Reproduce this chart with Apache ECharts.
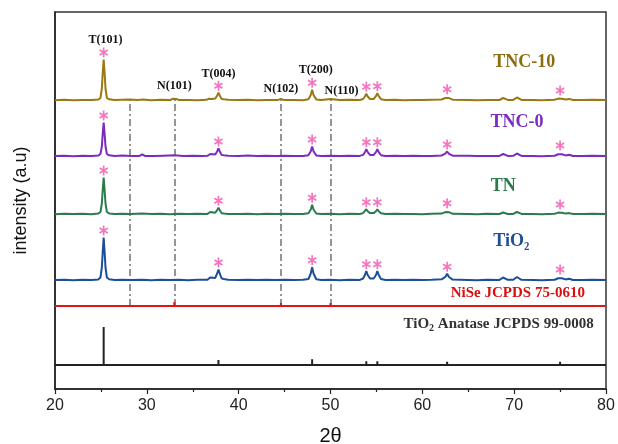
<!DOCTYPE html>
<html><head><meta charset="utf-8">
<script src="https://cdn.jsdelivr.net/npm/echarts@6/dist/echarts.min.js"></script>
<style>html,body{margin:0;padding:0;background:#fff}#c{width:618px;height:444px}</style>
</head><body><div id="c"></div>
<script>
// ---------- data ----------
const xTicks = [20, 30, 40, 50, 60, 70, 80];
const sampleNames = ['TNC-10', 'TNC-0', 'TN', 'TiO\u2082'];

// relative intensities [2θ, counts]
const tnc10 = [[20,0.3],[21,0.8],[22,0.2],[23,0.6],[24,0.4],[24.7,0.9],[24.95,2.5],[25.1,12],[25.2,28],[25.3,41],[25.4,28],[25.5,12],[25.65,2.5],[25.9,1.2],[26.5,0.5],[27.3,0.8],[28.1,1.0],[29,0.4],[29.6,1.0],[30.5,0.3],[31.5,0.7],[32.6,0.6],[32.85,1.8],[33.0,2.6],[33.2,1.6],[33.5,0.5],[34.5,0.6],[35.5,0.3],[36.5,0.7],[36.75,1.8],[36.9,2.6],[37.1,1.4],[37.45,2.0],[37.65,4.8],[37.8,7.7],[37.95,4.8],[38.15,1.5],[38.4,1.2],[38.6,2.6],[38.85,0.7],[40,0.4],[41,0.8],[42,0.3],[43,0.6],[44.3,0.6],[44.6,1.6],[44.9,0.6],[46,0.5],[47,0.3],[47.6,1.2],[47.85,5.5],[48.0,10.7],[48.15,5.5],[48.45,1.1],[49,0.5],[50,1.4],[51,0.4],[52,0.7],[53.2,0.5],[53.55,1.5],[53.75,4],[53.9,6.7],[54.05,4],[54.3,1.5],[54.7,1.5],[54.95,4.3],[55.1,7.3],[55.25,4.3],[55.5,1.3],[56,0.5],[57,0.8],[58,0.3],[59,0.6],[60,0.4],[61,0.7],[62.1,1.0],[62.5,2.5],[62.7,4.3],[62.9,2.4],[63.3,0.8],[65,0.6],[66,0.3],[67,0.6],[68.4,0.5],[68.6,1.4],[68.8,2.5],[69.0,1.3],[69.3,0.6],[69.9,0.6],[70.1,1.6],[70.3,3.0],[70.5,1.5],[70.8,0.6],[72,0.5],[73,0.3],[74.4,0.7],[74.8,1.9],[75.0,3.0],[75.2,1.8],[75.6,1.0],[76.0,1.6],[76.4,0.5],[77.5,0.4],[78.5,0.7],[80,0.4]];
const tnc0 = [[20,0.4],[21,0.7],[22,0.3],[23,0.8],[24,0.5],[24.7,0.9],[24.95,2.5],[25.1,10],[25.2,23],[25.3,34],[25.4,23],[25.5,10],[25.65,2.5],[25.9,1.2],[26.5,0.5],[27.3,0.9],[28.3,0.4],[29.2,0.6],[29.5,2.0],[29.8,0.6],[30.8,0.4],[31.8,0.8],[33.0,1.3],[34,0.4],[35,0.8],[36,0.4],[36.6,0.7],[36.75,1.7],[36.9,2.5],[37.1,1.4],[37.45,2.0],[37.65,5],[37.8,8],[37.95,5],[38.15,1.5],[38.4,1.2],[38.6,2.5],[38.85,0.7],[40,0.5],[41,0.9],[42,0.4],[43,0.8],[44,0.5],[45,0.8],[46,0.4],[47,0.6],[47.6,1.2],[47.85,5.2],[48.0,10],[48.15,5.2],[48.45,1.1],[49,0.4],[50,0.7],[51,0.4],[52,0.8],[53.2,0.6],[53.55,1.6],[53.75,4.3],[53.9,7.3],[54.05,4.3],[54.3,1.6],[54.7,1.6],[54.95,4.3],[55.1,7.3],[55.25,4.3],[55.5,1.3],[56,0.5],[57,0.8],[58,0.4],[59,0.7],[60,0.4],[61,0.6],[62.1,1.0],[62.5,2.8],[62.7,5],[62.9,2.7],[63.3,0.8],[65,0.7],[66,0.4],[67,0.6],[68.4,0.6],[68.6,1.4],[68.8,2.5],[69.0,1.3],[69.3,0.6],[69.9,0.7],[70.1,1.6],[70.3,3.0],[70.5,1.5],[70.8,0.6],[72,0.6],[73,0.3],[74.4,0.8],[74.8,2.3],[75.0,4],[75.2,2.2],[75.6,1.1],[76.0,1.8],[76.4,0.5],[77.5,0.5],[78.5,0.7],[80,0.4]];
const tn = [[20,0.3],[21,0.8],[22,0.4],[23,0.7],[24,0.3],[24.7,0.9],[24.95,2.5],[25.1,11],[25.2,25],[25.3,37],[25.4,25],[25.5,11],[25.65,2.5],[25.9,1.1],[26.5,0.4],[27.3,0.8],[28.3,0.4],[29.5,1.0],[30.5,0.4],[31.5,0.7],[32.5,0.3],[33.5,0.7],[34.5,0.4],[35.5,0.7],[36.6,0.6],[36.75,1.7],[36.9,2.5],[37.1,1.3],[37.45,1.8],[37.65,4.2],[37.8,6.7],[37.95,4.2],[38.15,1.3],[38.4,1.0],[38.6,2.0],[38.85,0.6],[40,0.5],[41,0.8],[42,0.3],[43,0.7],[44,0.4],[45,0.8],[46,0.4],[47,0.6],[47.6,1.2],[47.85,5],[48.0,9.7],[48.15,5],[48.45,1.0],[49,0.5],[50,0.7],[51,0.3],[52,0.7],[53.2,0.5],[53.55,1.4],[53.75,3.2],[53.9,5.3],[54.05,3.2],[54.3,1.4],[54.7,1.4],[54.95,3.2],[55.1,5.3],[55.25,3.2],[55.5,1.2],[56,0.5],[57,0.8],[58,0.4],[59,0.6],[60,0.3],[61,0.7],[62.1,0.9],[62.5,2.4],[62.7,4.3],[62.9,2.3],[63.3,0.7],[65,0.6],[66,0.3],[67,0.7],[68.4,0.5],[68.6,1.2],[68.8,2.0],[69.0,1.1],[69.3,0.5],[69.9,0.6],[70.1,1.4],[70.3,2.5],[70.5,1.3],[70.8,0.6],[72,0.5],[73,0.3],[74.4,0.7],[74.8,1.9],[75.0,3.0],[75.2,1.8],[75.6,0.9],[76.0,1.4],[76.4,0.5],[77.5,0.4],[78.5,0.7],[80,0.4]];
const tio2 = [[20,0.4],[21,0.7],[22,0.3],[23,0.8],[24,0.4],[24.7,1.0],[24.95,3],[25.1,13],[25.2,29],[25.3,43],[25.4,29],[25.5,13],[25.65,3],[25.9,1.3],[26.5,0.5],[27.3,0.8],[28.3,0.4],[29.5,0.8],[30.5,0.3],[31.5,0.7],[32.5,0.4],[33.5,0.7],[34.5,0.3],[35.5,0.7],[36.6,0.7],[36.75,2.0],[36.9,3.0],[37.1,1.6],[37.45,2.6],[37.65,6.8],[37.8,11],[37.95,6.8],[38.15,2.0],[38.4,1.5],[38.6,3.0],[38.85,0.7],[40,0.5],[41,0.8],[42,0.4],[43,0.7],[44,0.4],[45,0.8],[46,0.4],[47,0.7],[47.6,1.5],[47.85,7],[48.0,13.3],[48.15,7],[48.45,1.3],[49,0.5],[50,0.7],[51,0.3],[52,0.8],[53.2,0.6],[53.55,2.0],[53.75,5.5],[53.9,9.3],[54.05,5.5],[54.3,2.0],[54.7,2.0],[54.95,5.5],[55.1,9.3],[55.25,5.5],[55.5,1.6],[56,0.6],[57,0.8],[58,0.4],[59,0.7],[60,0.4],[61,0.7],[62.1,1.2],[62.5,3.6],[62.7,6.7],[62.9,3.5],[63.3,0.9],[65,0.6],[66,0.3],[67,0.7],[68.4,0.6],[68.6,1.6],[68.8,3.0],[69.0,1.5],[69.3,0.7],[69.9,0.8],[70.1,1.9],[70.3,3.5],[70.5,1.8],[70.8,0.7],[72,0.5],[73,0.3],[74.4,0.8],[74.8,2.3],[75.0,4],[75.2,2.2],[75.6,1.1],[76.0,1.8],[76.4,0.5],[77.5,0.4],[78.5,0.7],[80,0.4]];

// reference stick patterns
const niseRef2Theta = [28.1, 33.0, 44.6, 50.0];
const niseRefInt    = [2, 4, 3, 3];
const anataseRef2Theta = [25.3, 36.9, 37.8, 38.6, 48.0, 53.9, 55.1, 62.7, 68.8, 70.3, 75.0];
const anataseRefInt    = [38, 1, 5, 1, 5.7, 3.7, 3.7, 3.3, 1.2, 1.2, 3.3];

// anatase peaks marked with *
const starPeaks = [25.3, 37.8, 48.0, 53.9, 55.1, 62.7, 75.0];
// NiSe reference lines (dash-dot)
const niseLines = [28.1, 33.0, 44.6, 50.0];

const peakLabels = ['T(101)', 'N(101)', 'T(004)', 'N(102)', 'T(200)', 'N(110)'];

// ---------- layout (vertical stacking offsets, label anchors) ----------
const sampleOffsets = [288.5, 232.5, 174.5, 108.5];
const niseOffset = 83;
const anataseOffset = 24;
const peakLabelPos = [[25.5,349],[33.0,303],[37.8,315],[44.6,300],[48.4,319],[51.2,298]];
const sampleLabelPos = [[71.1,327],[70.3,267],[68.8,203],[69.7,148]];
const niseLabelPos = [70.4, 96];
const anataseLabelPos = [68.3, 65];

const colors = ['#9a7812', '#7a2cbf', '#2b7b4c', '#1d4f98'];
const textColors = ['#8d6c10', '#7a2cbf', '#2b7b4c', '#1d4f98'];
const starColor = '#f252ad';
const serif = '"Liberation Serif", "Times New Roman", serif';

// ---------- build ----------
const samples = [tnc10, tnc0, tn, tio2];
function shift(arr, off) { return arr.map(p => [p[0], p[1] + off]); }
function sticks(xs, hs, off) {
  const out = [[20, off]];
  xs.forEach((x, i) => { out.push([x, off], [x, off + hs[i]], [x, off]); });
  out.push([80, off]);
  return out;
}
function peakTop(arr, x) {
  let best = 0;
  arr.forEach(p => { if (Math.abs(p[0] - x) < 0.2) best = Math.max(best, p[1]); });
  return best;
}
const starGap = 7;
const starPath = 'path://M0.9,-5L0.9,5L-0.9,5L-0.9,-5Z M-3.88,-3.28L4.78,1.72L3.88,3.28L-4.78,-1.72Z M4.78,-1.72L-3.88,3.28L-4.78,1.72L3.88,-3.28Z';

const series = [];
samples.forEach((arr, i) => {
  series.push({
    type: 'line', name: sampleNames[i], data: shift(arr, sampleOffsets[i]),
    showSymbol: false, symbol: 'none', z: 3,
    lineStyle: { color: colors[i], width: 2 }
  });
});
series.push({
  type: 'line', name: 'NiSe', data: sticks(niseRef2Theta, niseRefInt, niseOffset),
  symbol: 'none', z: 3, lineStyle: { color: '#e01515', width: 2 },
  markLine: {
    silent: true, symbol: 'none', z: 1,
    lineStyle: { color: '#8a8a8a', width: 1.8, type: [7, 3, 2, 3] },
    label: { show: false },
    data: niseLines.map(x => [{ coord: [x, niseOffset] }, { coord: [x, sampleOffsets[0] + 0.5] }])
  }
});
series.push({
  type: 'line', name: 'Anatase', data: sticks(anataseRef2Theta, anataseRefInt, anataseOffset),
  symbol: 'none', z: 3, lineStyle: { color: '#222', width: 2 }
});
const starData = [];
samples.forEach((arr, i) => {
  starPeaks.forEach(x => starData.push([x, sampleOffsets[i] + peakTop(arr, x) + starGap]));
});
series.push({
  type: 'scatter', data: starData, symbol: starPath, symbolSize: [9, 10], z: 4,
  itemStyle: { color: starColor }, silent: true
});

const chart = echarts.init(document.getElementById('c'), null, { renderer: 'canvas' });
chart.setOption({
  animation: false,
  backgroundColor: '#fff',
  grid: { left: 55, right: 12, top: 12, bottom: 55, outerBoundsMode: 'none', containLabel: false,
          show: true, borderColor: '#333', borderWidth: 1.5, backgroundColor: 'transparent' },
  xAxis: {
    type: 'value', min: xTicks[0], max: xTicks[xTicks.length - 1], interval: 10,
    name: '2\u03b8', nameLocation: 'middle', nameGap: 37,
    nameTextStyle: { fontFamily: '"Liberation Sans", Arial, sans-serif', fontSize: 20, color: '#111' },
    axisLine: { show: true, lineStyle: { color: '#222', width: 1.5 } },
    axisTick: { show: true, inside: false, length: 5, lineStyle: { color: '#222', width: 1.2 } },
    minorTick: { show: true, splitNumber: 2, length: 3, lineStyle: { color: '#222', width: 1.2 } },
    axisLabel: { fontFamily: '"Liberation Sans", Arial, sans-serif', fontSize: 16, color: '#222', margin: 9 },
    splitLine: { show: false }
  },
  yAxis: {
    type: 'value', min: 0, max: 377,
    name: 'intensity (a.u)', nameLocation: 'middle', nameGap: 25,
    nameTextStyle: { fontFamily: '"Liberation Sans", Arial, sans-serif', fontSize: 18, color: '#111' },
    axisLine: { show: true, lineStyle: { color: '#222', width: 1.5 } },
    axisTick: { show: false }, axisLabel: { show: false }, splitLine: { show: false }
  },
  series
});

// text annotations anchored to data coordinates
function px(p) { return chart.convertToPixel({ gridIndex: 0 }, p); }
function txt(p, text, font, fill) {
  const q = px(p);
  return { type: 'text', z: 100, silent: true,
    style: { text, x: q[0], y: q[1], align: 'center', verticalAlign: 'middle', font, fill } };
}
const graphics = [];
peakLabels.forEach((t, i) => graphics.push(txt(peakLabelPos[i], t, 'bold 12px ' + serif, '#111')));
sampleNames.forEach((t, i) => graphics.push(txt(sampleLabelPos[i], t, 'bold 18px ' + serif, textColors[i])));
graphics.push(txt(niseLabelPos, 'NiSe JCPDS 75-0610', 'bold 15px ' + serif, '#d81010'));
const aq = px(anataseLabelPos);
graphics.push({ type: 'text', z: 100, silent: true,
  style: { text: '{a|TiO}{s|2}{a| Anatase JCPDS 99-0008}', x: aq[0], y: aq[1], align: 'center', verticalAlign: 'middle',
    rich: {
      a: { fontFamily: serif, fontWeight: 'bold', fontSize: 15, fill: '#333', lineHeight: 18 },
      s: { fontFamily: serif, fontWeight: 'bold', fontSize: 10, fill: '#333', lineHeight: 18, verticalAlign: 'bottom' }
    } } });
chart.setOption({ graphic: graphics });
</script>
</body></html>
